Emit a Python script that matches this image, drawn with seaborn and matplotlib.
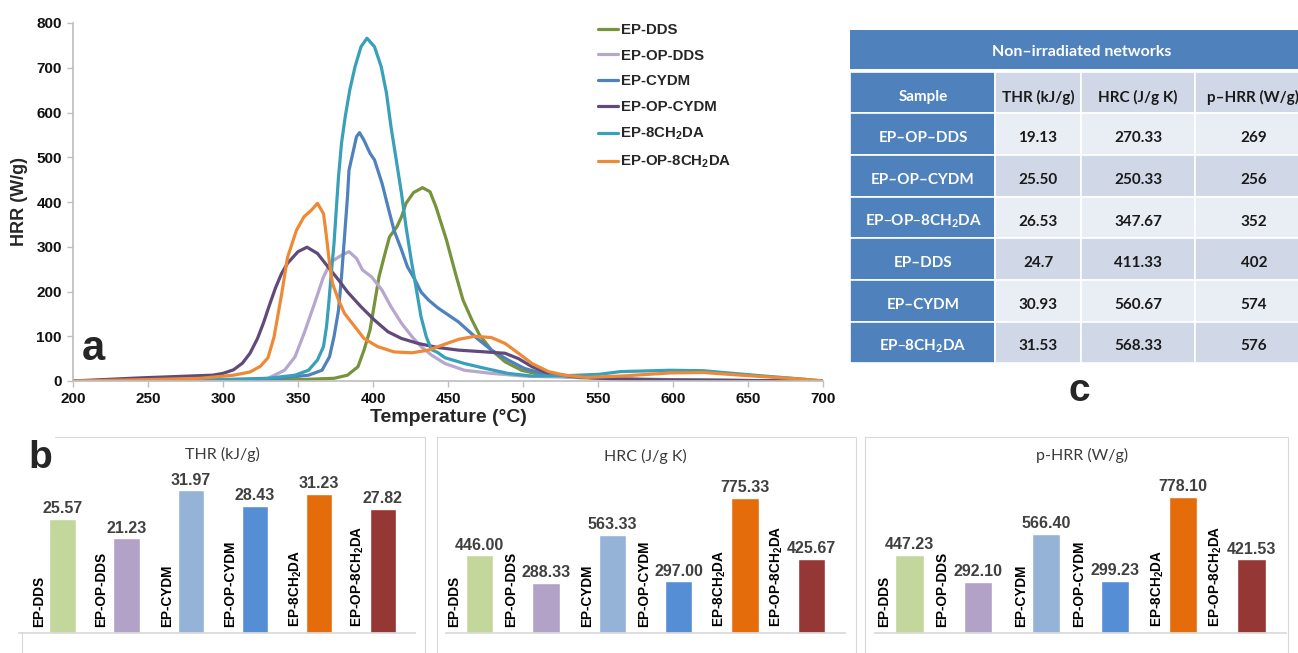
import numpy as np
import pandas as pd
import seaborn as sns
import matplotlib.pyplot as plt
from matplotlib.patches import Rectangle

# curves (panel a)
samples = ["EP-DDS", "EP-OP-DDS", "EP-CYDM", "EP-OP-CYDM", "EP-8CH$_2$DA", "EP-OP-8CH$_2$DA"]

t_dds = [200, 250, 300, 330, 350, 374, 383, 390, 394, 398, 401, 404, 408, 411, 416, 419,
         422, 427, 433, 438, 442, 449, 455, 460, 466, 471, 479, 488, 499, 513, 535, 560,
         600, 650, 700]
hrr_dds = [0, 0, 0.5, 2, 3, 6, 13, 32, 69, 114, 173, 233, 285, 322, 345, 367,
           397, 421, 432, 423, 389, 315, 240, 181, 136, 103, 69, 43, 24, 13, 8, 5,
           3, 1, 0]

t_op_dds = [200, 250, 300, 320, 330, 341, 348, 354, 361, 367, 372, 379, 384, 389, 393, 399,
            406, 412, 419, 426, 432, 439, 448, 461, 479, 501, 535, 565, 600, 650, 700]
hrr_op_dds = [0, 1, 3, 4, 6, 24, 54, 106, 173, 233, 266, 281, 289, 274, 248, 233,
              203, 166, 129, 99, 77, 58, 39, 24, 17, 11, 8, 4, 2, 1, 0]

t_cydm = [200, 250, 300, 330, 357, 366, 371, 374, 377, 379, 381, 383, 384, 387, 389, 391,
          394, 398, 401, 406, 410, 414, 419, 423, 428, 432, 437, 443, 457, 468, 479, 490,
          501, 513, 535, 565, 600, 650, 700]
hrr_cydm = [0, 1, 2, 3, 13, 24, 54, 99, 158, 233, 322, 412, 471, 516, 546, 555,
            538, 509, 494, 442, 389, 337, 293, 255, 226, 199, 181, 164, 132, 99, 69, 47,
            28, 17, 9.5, 4, 2, 1, 0]

t_op_cydm = [200, 245, 293, 300, 307, 313, 318, 323, 327, 331, 335, 339, 343, 350, 356, 363,
             370, 377, 383, 392, 401, 410, 419, 430, 443, 457, 475, 488, 497, 506, 517, 535,
             565, 600, 650, 700]
hrr_op_cydm = [0, 7, 13, 17, 25, 40, 62, 95, 130, 170, 208, 240, 263, 289, 299, 285,
               255, 226, 199, 166, 136, 110, 95, 84, 75, 69, 65, 62, 50, 32, 17, 9.5,
               4, 2, 1, 0]

t_8ch2da = [200, 250, 285, 330, 348, 357, 363, 367, 369, 370.5, 372, 374, 375.5, 377, 379, 381.5,
            384.5, 388, 392, 396, 401, 405.5, 409, 412, 415.5, 419, 422, 425.5, 429, 432, 435.5, 439,
            443, 448, 461, 475, 490, 506, 530, 551, 565, 598, 620, 654, 687, 700]
hrr_8ch2da = [0, 1, 2, 6, 13, 24, 47, 77, 121, 173, 233, 307, 382, 456, 531, 591,
              650, 702, 747, 766, 747, 702, 643, 568, 494, 419, 345, 270, 203, 144, 99, 70,
              64, 52, 39, 28, 17, 11, 12, 15, 21, 24, 23, 13, 4, 0]

t_op_8ch2da = [200, 250, 285, 307, 318, 325, 330, 334, 339, 343, 349, 354, 359, 363, 367, 369,
               371, 373, 377, 381, 388, 394, 403, 414, 426, 437, 446, 457, 468, 479, 488, 497,
               506, 517, 528, 542, 565, 598, 620, 654, 687, 700]
hrr_op_8ch2da = [0, 3, 6, 13, 20, 33, 52, 98, 192, 276, 337, 367, 382, 397, 374, 322,
                 263, 218, 181, 151, 121, 95, 77, 65, 63, 69, 80, 93, 100, 97, 84, 62,
                 39, 21, 13, 8, 11, 18, 19, 11, 4, 0]

line_colors = ["#77933C", "#B7A6CD", "#4F81BD", "#604A7B", "#38A0B8", "#EE8A35"]

# bar panels (b)
thr_vals = [25.57, 21.23, 31.97, 28.43, 31.23, 27.82]
hrc_vals = [446.00, 288.33, 563.33, 297.00, 775.33, 425.67]
phrr_vals = [447.23, 292.10, 566.40, 299.23, 778.10, 421.53]
bar_colors = ["#C3D69B", "#B3A2C7", "#95B3D7", "#558ED5", "#E46C0A", "#953735"]

# table (c)
table_title = "Non–irradiated networks"
table_cols = ["Sample", "THR (kJ/g)", "HRC (J/g K)", "p–HRR (W/g)"]
table_samples = ["EP–OP–DDS", "EP–OP–CYDM", "EP–OP–8CH$_2$DA", "EP–DDS", "EP–CYDM", "EP–8CH$_2$DA"]
table_thr = ["19.13", "25.50", "26.53", "24.7", "30.93", "31.53"]
table_hrc = ["270.33", "250.33", "347.67", "411.33", "560.67", "568.33"]
table_phrr = ["269", "256", "352", "402", "574", "576"]

sns.set_theme(style="white")
plt.rcParams['font.family'] = ['Liberation Sans', 'DejaVu Sans']
plt.rcParams['mathtext.default'] = 'regular'

W, H = 1298, 653
fig = plt.figure(figsize=(W / 100, H / 100), dpi=100)


def px_axes(x0, y0, x1, y1):
    return fig.add_axes([x0 / W, 1 - y1 / H, (x1 - x0) / W, (y1 - y0) / H])


# ---- a: HRR curves
ax = px_axes(73, 23, 823, 381)
curves = [(t_dds, hrr_dds), (t_op_dds, hrr_op_dds), (t_cydm, hrr_cydm),
          (t_op_cydm, hrr_op_cydm), (t_8ch2da, hrr_8ch2da), (t_op_8ch2da, hrr_op_8ch2da)]
df = pd.concat([pd.DataFrame({"T": t, "HRR": h, "sample": s})
                for s, (t, h) in zip(samples, curves)], ignore_index=True)
sns.lineplot(data=df, x="T", y="HRR", hue="sample", hue_order=samples,
             palette=line_colors, linewidth=2.3, estimator=None,
             solid_joinstyle="round", ax=ax)
ax.set_xlim(200, 700)
ax.set_ylim(0, 800)
ax.set_xticks(range(200, 701, 50))
ax.set_yticks(range(0, 801, 100))
for side in ["top", "right"]:
    ax.spines[side].set_visible(False)
for side in ["left", "bottom"]:
    ax.spines[side].set_color("#BFBFBF")
ax.tick_params(length=4, color="#BFBFBF", width=1, labelsize=11, pad=4,
               bottom=True, left=True, labelcolor="#111111")
for lab in ax.get_xticklabels() + ax.get_yticklabels():
    lab.set_fontweight("bold")
ax.set_xlabel("Temperature (°C)", fontsize=14, fontweight="bold", labelpad=2)
ax.set_ylabel("HRR (W/g)", fontsize=13, fontweight="bold", labelpad=6)
sns.move_legend(ax, "upper left", bbox_to_anchor=(598 / W, 1 - 23 / H),
                bbox_transform=fig.transFigure, frameon=False, title=None,
                prop={"weight": "bold", "size": 10.8}, handlelength=1.35,
                handletextpad=0.15, labelspacing=0.78, borderpad=0, borderaxespad=0)
for ln in ax.get_legend().get_lines():
    ln.set_linewidth(2.3)

# ---- b: bar panels
bar_panels = [
    (thr_vals, 19.5, 415.05, -0.67, 163 / 4.46, -0.36, -0.03),
    (hrc_vals, 446.3, 844.7, -0.5, 163 / 0.174, -0.38, -0.14),
    (phrr_vals, 875.3, 1285.7, -0.5, 163 / 0.1745, -0.37, -0.15),
]
for vals, x0, x1, xmin, ytop, off, op_off in bar_panels:
    bx = px_axes(x0, 470, x1, 633)
    sns.barplot(x=samples, y=vals, hue=samples, palette=bar_colors, width=0.41,
                saturation=1, legend=False, ax=bx)
    bx.set_xlim(xmin, 5.5)
    bx.set_ylim(0, ytop)
    bx.set_facecolor("none")
    bx.set_xticks([])
    bx.set_yticks([])
    bx.set_xlabel("")
    bx.set_ylabel("")
    for side in ["top", "right", "left"]:
        bx.spines[side].set_visible(False)
    bx.spines["bottom"].set_color("#D9D9D9")
    for cont in bx.containers:
        bx.bar_label(cont, fmt="%.2f", padding=2, fontsize=11.5,
                     fontweight="bold", color="#404040")
    for i, s in enumerate(samples):
        dx = off + (op_off if "OP" in s else 0)
        bx.annotate(s, xy=(i + dx, 0), xytext=(0, 4), textcoords="offset points",
                    rotation=90, ha="center", va="bottom", fontsize=9.8,
                    fontweight="bold", color="black")

# ---- overlay in pixel coords: boxes, letters, table
deco = fig.add_axes([0, 0, 1, 1], zorder=5)
deco.set_xlim(0, W)
deco.set_ylim(H, 0)
deco.axis("off")
deco.patch.set_alpha(0)

box_kw = dict(color="#D9D9D9", linewidth=0.8)
deco.plot([55, 425, 425], [437, 437, 660], **box_kw)
deco.plot([22, 22], [632, 660], **box_kw)
for bx0, bx1 in [(437, 856), (865, 1288)]:
    deco.plot([bx0, bx0, bx1, bx1], [660, 437, 437, 660], **box_kw)

sub_titles = ["THR (kJ/g)", "HRC (J/g K)", "p-HRR (W/g)"]
for (tx, ty), txt in zip([(222, 454), (645, 456), (1082, 455)], sub_titles):
    deco.text(tx, ty, txt, ha="center", va="center", fontsize=11.5,
              family="Lato", color="#3a3a3a")

deco.text(93, 349, "a", fontsize=30, fontweight="bold", ha="center", va="center")
deco.text(40, 458, "b", fontsize=28, fontweight="bold", ha="center", va="center")
deco.text(1079, 391, "c", fontsize=28, fontweight="bold", ha="center", va="center")

blue = "#4F81BD"
light = "#E9EDF4"
dark = "#D0D8E8"
col_edges = [850, 995, 1081, 1195, 1320]
row_edges = [113, 155, 197, 238, 280, 322, 363]

deco.add_patch(Rectangle((850, 30), 470, 39, facecolor=blue, edgecolor="none"))
deco.text(1082, 52, table_title, ha="center", va="center", color="white",
          fontsize=11.5, fontweight="bold", family="Lato")
for j in range(4):
    cx0, cx1 = col_edges[j], col_edges[j + 1]
    deco.add_patch(Rectangle((cx0, 72), cx1 - cx0, 41, facecolor=blue if j == 0 else dark,
                             edgecolor="white", linewidth=1.2))
col_centers = [923, 1038, 1138, 1254]
for j, txt in enumerate(table_cols):
    if j == 3:
        deco.text(1207, 97, txt, ha="left", va="center", color="#1a1a1a",
                  fontsize=11, fontweight="bold", family="Lato")
    else:
        deco.text(col_centers[j], 97, txt, ha="center", va="center",
                  color="white" if j == 0 else "#1a1a1a",
                  fontsize=11, fontweight="bold", family="Lato")

for i, row in enumerate(zip(table_samples, table_thr, table_hrc, table_phrr)):
    ry0, ry1 = row_edges[i], row_edges[i + 1]
    fill = light if i % 2 == 0 else dark
    for j, txt in enumerate(row):
        cx0, cx1 = col_edges[j], col_edges[j + 1]
        deco.add_patch(Rectangle((cx0, ry0), cx1 - cx0, ry1 - ry0,
                                 facecolor=blue if j == 0 else fill,
                                 edgecolor="white", linewidth=1.2))
        deco.text(col_centers[j], (ry0 + ry1) / 2 + 4, txt, ha="center", va="center",
                  color="white" if j == 0 else "#1a1a1a",
                  fontsize=11, fontweight="bold", family="Lato")

fig.savefig("out.png", dpi=100)
